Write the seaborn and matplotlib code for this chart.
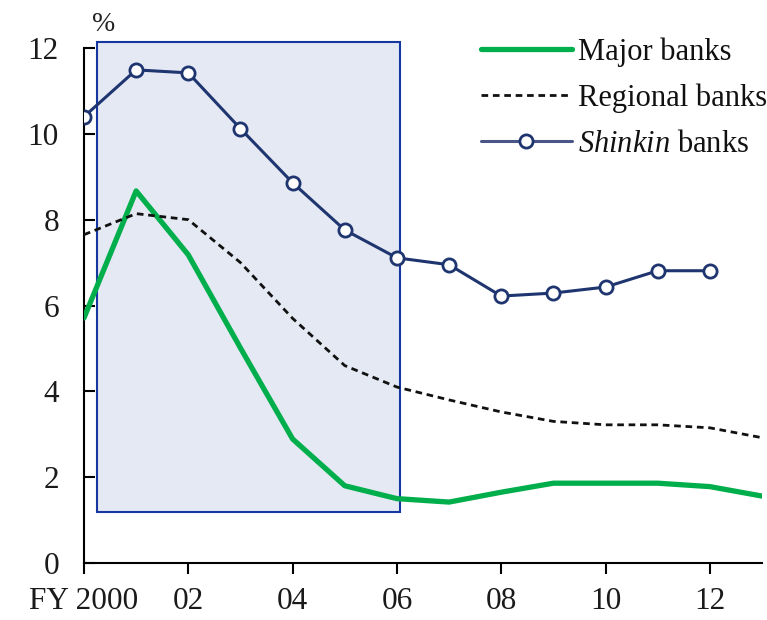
import matplotlib
matplotlib.use("Agg")
import matplotlib.pyplot as plt
import matplotlib.patches as mpatches
import seaborn as sns
import pandas as pd

years = list(range(2000, 2014))
major = [5.71, 8.67, 7.18, 5.01, 2.89, 1.80, 1.50, 1.42, 1.65, 1.86, 1.86, 1.86, 1.78, 1.56]
regional = [7.65, 8.14, 8.00, 7.00, 5.70, 4.60, 4.10, 3.80, 3.52, 3.30, 3.22, 3.22, 3.15, 2.92]
shinkin_years = list(range(2000, 2013))
shinkin = [10.40, 11.49, 11.42, 10.12, 8.86, 7.76, 7.11, 6.95, 6.22, 6.29, 6.43, 6.81, 6.81]
xticks = [2000, 2002, 2004, 2006, 2008, 2010, 2012]
xticklabels = ["FY 2000", "02", "04", "06", "08", "10", "12"]
yticks = [0, 2, 4, 6, 8, 10, 12]

sns.set_theme(style="white")
plt.rcParams['font.family'] = ['Liberation Serif', 'DejaVu Serif']
plt.rcParams['mathtext.fontset'] = 'custom'
plt.rcParams['mathtext.rm'] = 'Liberation Serif'
plt.rcParams['mathtext.it'] = 'Liberation Serif:italic'

fig = plt.figure(figsize=(7.67, 6.2), dpi=100)
ax = fig.add_axes([0.1095, 0.0919, 0.884, 0.8307])

rect = mpatches.Rectangle((2000.25, 1.2), 5.8, 10.93, facecolor="#E5E9F4",
                          edgecolor="#1636A0", linewidth=1.5, zorder=0, clip_on=False)
ax.add_patch(rect)

df_major = pd.DataFrame({"year": years, "v": major})
df_reg = pd.DataFrame({"year": years, "v": regional})
df_sh = pd.DataFrame({"year": shinkin_years, "v": shinkin})

sns.lineplot(data=df_major, x="year", y="v", ax=ax, color="#00AE4B", linewidth=3.8,
             label="Major banks", zorder=3)
sns.lineplot(data=df_reg, x="year", y="v", ax=ax, color="#111111", linewidth=2.0,
             linestyle=(0, (2.4, 1.7)), label="Regional banks", zorder=3)
sns.lineplot(data=df_sh, x="year", y="v", ax=ax, color="#1F3570", linewidth=2.2,
             marker="o", markersize=9.5, markerfacecolor="white", markeredgecolor="#1F3570",
             markeredgewidth=2.0, label="$\\it{Shinkin}$ banks", zorder=4)

ax.set_xlim(2000, 2013)
ax.set_ylim(0, 12)
ax.set_xticks(xticks)
ax.set_xticklabels(xticklabels)
ax.set_yticks(yticks)
ax.set_xlabel("")
ax.set_ylabel("")
for s in ["top", "right"]:
    ax.spines[s].set_visible(False)
for s in ["left", "bottom"]:
    ax.spines[s].set_color("black")
    ax.spines[s].set_linewidth(1.5)
ax.tick_params(axis="x", direction="out", length=8, width=1.5, labelsize=22.5, pad=9, colors="black")
ax.tick_params(axis="y", direction="in", length=8, width=1.5, labelsize=22.5, pad=18, colors="black")
ax.tick_params(bottom=True, left=True)
for lbl in ax.get_xticklabels() + ax.get_yticklabels():
    lbl.set_color("#1a1a1a")

ax.text(2000.15, 12.25, "%", fontsize=20, ha="left", va="bottom", color="#222222")

leg = ax.legend(loc="upper right", bbox_to_anchor=(1.026, 1.045), frameon=False,
                fontsize=22, handlelength=3.0, labelspacing=0.55, handletextpad=0.2,
                borderaxespad=0.0)
for t in leg.get_texts():
    t.set_color("#111111")
leg.get_lines()[2].set_color("#4A5688")

fig.savefig("out.png", dpi=100)
